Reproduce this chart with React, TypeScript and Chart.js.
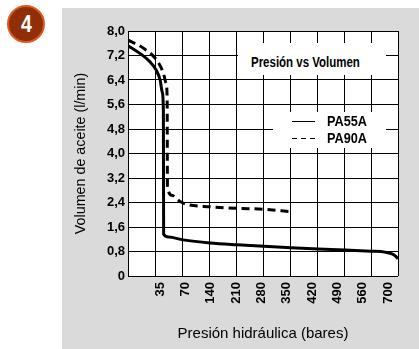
import React, { useEffect, useRef } from 'react';
import { Chart, registerables } from 'chart.js';

Chart.register(...registerables);

// ---- data ----
const xTickLabels = ['35', '70', '140', '210', '280', '350', '420', '490', '560', '700'];
const seriesNames = ['PA55A', 'PA90A'];
// x in grid-column units (0..10), y in l/min
const pa55aX = [0, 0.44, 0.81, 1.04, 1.19, 1.27, 1.31, 1.32, 1.5, 2.04, 3.04, 4.04, 5.04, 6.04, 7.04, 8.04, 9.0, 9.52, 9.78, 9.93, 10];
const pa55aY = [7.52, 7.27, 7.0, 6.73, 6.4, 6.0, 5.4, 1.36, 1.27, 1.18, 1.08, 1.02, 0.97, 0.92, 0.88, 0.85, 0.81, 0.78, 0.72, 0.63, 0.56];
const pa90aX = [0, 0.57, 1.06, 1.31, 1.41, 1.45, 1.46, 1.62, 1.93, 2.17, 3.04, 4.03, 5.0, 6.04];
const pa90aY = [7.7, 7.44, 7.05, 6.62, 6.29, 5.8, 2.95, 2.64, 2.43, 2.34, 2.26, 2.21, 2.18, 2.1];
const chartTitle = 'Presión vs Volumen';
const xTitle = 'Presión hidráulica (bares)';
const yTitle = 'Volumen de aceite (l/min)';
const badgeText = '4';

const SANS = '"Liberation Sans", Arial, sans-serif';

const whiteArea = {
  id: 'whiteArea',
  beforeDraw(chart: any) {
    const { ctx, chartArea } = chart;
    ctx.save();
    ctx.fillStyle = '#ffffff';
    ctx.fillRect(chartArea.left, chartArea.top, chartArea.right - chartArea.left, chartArea.bottom - chartArea.top);
    ctx.restore();
  },
};

export default function App() {
  const ref = useRef<HTMLCanvasElement | null>(null);

  useEffect(() => {
    document.body.style.margin = '0';
    if (!ref.current) return;
    const chart = new Chart(ref.current, {
      type: 'line',
      data: {
        datasets: [
          {
            label: seriesNames[0],
            data: pa55aX.map((x, i) => ({ x, y: pa55aY[i] })),
            borderColor: '#000',
            borderWidth: 3,
            pointRadius: 0,
            cubicInterpolationMode: 'monotone',
            fill: false,
            xAxisID: 'x',
            yAxisID: 'y',
          },
          {
            label: seriesNames[1],
            data: pa90aX.map((x, i) => ({ x, y: pa90aY[i] })),
            borderColor: '#000',
            borderWidth: 3,
            borderDash: [8, 5],
            pointRadius: 0,
            cubicInterpolationMode: 'monotone',
            fill: false,
            xAxisID: 'x',
            yAxisID: 'y',
          },
        ],
      },
      options: {
        animation: false,
        responsive: false,
        devicePixelRatio: 1,
        layout: { padding: { top: 23, right: 21, bottom: 0, left: 0 } },
        plugins: { legend: { display: false }, tooltip: { enabled: false } },
        scales: {
          x: {
            type: 'linear',
            position: 'bottom',
            min: 0,
            max: 10,
            ticks: { display: false, stepSize: 1 },
            grid: { color: '#000', lineWidth: 1, drawTicks: false },
            border: { display: false },
            afterFit: (s: any) => { s.height = 0; },
          },
          xl: {
            type: 'linear',
            position: 'bottom',
            min: -0.263,
            max: 10.395,
            grid: { display: false, drawTicks: false },
            border: { display: false },
            ticks: {
              stepSize: 1,
              includeBounds: false,
              autoSkip: false,
              minRotation: 90,
              maxRotation: 90,
              padding: 6,
              color: '#000',
              font: { family: SANS, size: 13, weight: 'bold' },
              callback: (v: any) => {
                const i = Math.round(v);
                return Math.abs(v - i) < 1e-6 && i >= 1 && i <= xTickLabels.length ? xTickLabels[i - 1] : '';
              },
            },
            title: {
              display: true,
              text: xTitle,
              color: '#000',
              font: { family: SANS, size: 15 },
              padding: { top: 0, bottom: 6 },
            },
            afterFit: (s: any) => { s.height = 73; },
          },
          y: {
            min: 0,
            max: 8,
            ticks: {
              stepSize: 0.8,
              padding: 3,
              color: '#000',
              font: { family: SANS, size: 13, weight: 'bold' },
              callback: (v: any) => (Number(v) === 0 ? '0' : Number(v).toFixed(1).replace('.', ',')),
            },
            grid: { color: '#000', lineWidth: 1, drawTicks: false },
            border: { display: false },
            title: {
              display: true,
              text: yTitle,
              color: '#000',
              font: { family: SANS, size: 14.3 },
              padding: { top: 10.5, bottom: 0 },
            },
            afterFit: (s: any) => { s.width = 66; },
          },
        },
      },
      plugins: [whiteArea],
    } as any);
    return () => chart.destroy();
  }, []);

  const boxText: React.CSSProperties = {
    fontFamily: SANS,
    fontWeight: 'bold',
    color: '#000',
    whiteSpace: 'nowrap',
    display: 'inline-block',
    transformOrigin: 'left center',
    transform: 'scaleX(0.82)',
  };

  return (
    <div style={{ position: 'relative', width: 419, height: 349, background: '#fff', overflow: 'hidden' }}>
      <div style={{ position: 'absolute', left: 62, top: 8, width: 357, height: 341, background: '#dadada' }} />
      <canvas ref={ref} width={357} height={341} style={{ position: 'absolute', left: 62, top: 8, width: 357, height: 341 }} />
      {/* title box */}
      <div style={{ position: 'absolute', left: 238, top: 43, width: 148, height: 32, background: '#fff' }} />
      <div style={{ position: 'absolute', left: 251, top: 53, height: 18, lineHeight: '18px', fontSize: 14, ...boxText }}>
        {chartTitle}
      </div>
      {/* legend box */}
      <div style={{ position: 'absolute', left: 273, top: 112, width: 113, height: 36, background: '#fff' }} />
      <svg style={{ position: 'absolute', left: 290, top: 114, width: 30, height: 30 }} width={30} height={30}>
        <line x1={2} y1={7.5} x2={25} y2={7.5} stroke="#000" strokeWidth={1} />
        <line x1={2} y1={24.5} x2={25} y2={24.5} stroke="#000" strokeWidth={1} strokeDasharray="5,4" />
      </svg>
      <div style={{ position: 'absolute', left: 327, top: 112, height: 18, lineHeight: '18px', fontSize: 15.5, ...boxText }}>
        {seriesNames[0]}
      </div>
      <div style={{ position: 'absolute', left: 327, top: 129, height: 18, lineHeight: '18px', fontSize: 15.5, ...boxText }}>
        {seriesNames[1]}
      </div>
      {/* badge */}
      <div
        style={{
          position: 'absolute', left: 7, top: 5, width: 38, height: 38, borderRadius: '50%', boxSizing: 'border-box',
          background: '#8f2e07', border: '2px solid #dc5c1c', display: 'flex', alignItems: 'center',
          justifyContent: 'center',
        }}
      >
        <span
          style={{
            color: '#fff', fontFamily: SANS, fontWeight: 'bold', fontSize: 23, lineHeight: 1,
            display: 'inline-block', transform: 'scaleX(0.85)',
          }}
        >
          {badgeText}
        </span>
      </div>
    </div>
  );
}
